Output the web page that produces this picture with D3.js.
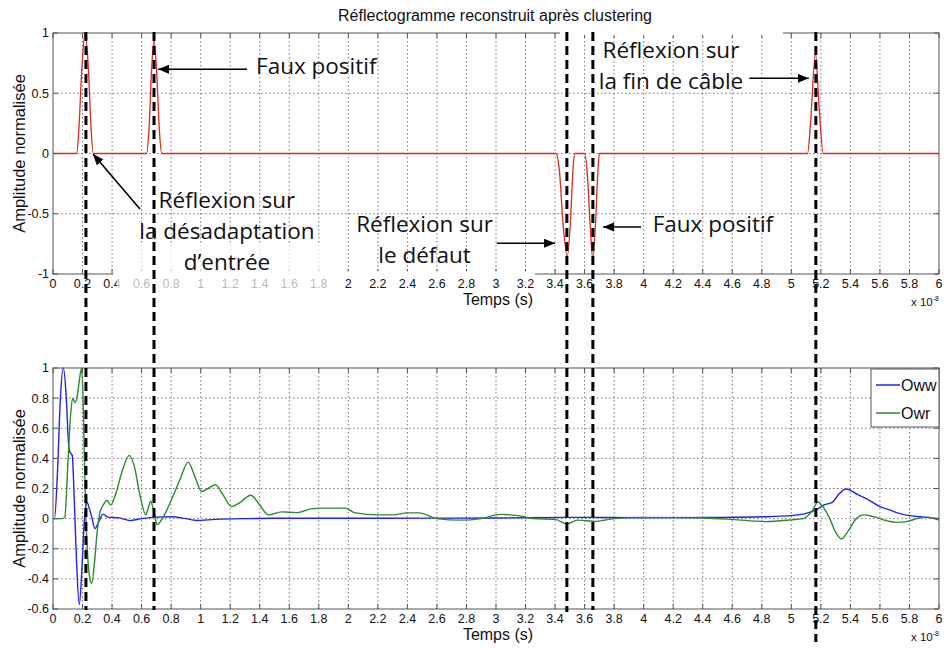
<!DOCTYPE html>
<html><head><meta charset="utf-8">
<script src="https://cdn.jsdelivr.net/npm/d3@7"></script>
<style>body{margin:0;background:#fff}svg{display:block}</style>
</head><body><svg id="c" width="946" height="648"></svg>
<script>
// ---------------- DATA ----------------
const xTickLabels = ["0","0.2","0.4","0.6","0.8","1","1.2","1.4","1.6","1.8","2","2.2","2.4","2.6","2.8","3","3.2","3.4","3.6","3.8","4","4.2","4.4","4.6","4.8","5","5.2","5.4","5.6","5.8","6"];
const yTickLabelsTop = ["-1","-0.5","0","0.5","1"];
const yTickLabelsBottom = ["-0.6","-0.4","-0.2","0","0.2","0.4","0.6","0.8","1"];

// Top panel : reconstructed reflectogram (time in 1e-8 s, normalised amplitude)
const reflectogram = [[0,0],[0.16,0],[0.175,0.2],[0.195,0.7],[0.217,1.0],[0.24,0.7],[0.258,0.2],[0.273,0],
  [0.634,0],[0.65,0.2],[0.668,0.7],[0.684,0.94],[0.703,0.65],[0.72,0.2],[0.736,0],
  [3.406,0],[3.43,-0.15],[3.455,-0.6],[3.483,-0.85],[3.505,-0.55],[3.522,-0.12],[3.535,0],
  [3.60,0],[3.62,-0.2],[3.638,-0.6],[3.655,-0.87],[3.675,-0.55],[3.69,-0.15],[3.70,0],
  [5.11,0],[5.13,0.25],[5.163,0.83],[5.19,0.35],[5.216,0],[6,0]];

// Bottom panel : Oww
const owwSeries = [[0,0],[0.01,0],[0.03,0.3],[0.05,0.8],[0.07,1.0],[0.09,0.8],[0.105,0.5],[0.115,0.44],[0.13,0.42],
  [0.145,0.1],[0.16,-0.3],[0.178,-0.57],[0.195,-0.35],[0.21,-0.05],[0.222,0.08],[0.232,0.105],[0.245,0.07],
  [0.26,0.02],[0.284,-0.066],[0.31,-0.02],[0.34,0.03],[0.37,0.01],[0.45,0.005],[0.52,-0.013],[0.6,0],
  [0.7,0.01],[0.8,0.012],[0.9,0],[0.97,-0.012],[1.1,-0.005],[1.3,0],[1.5,0.002],[2,0.002],[2.5,0.003],
  [3,0.004],[3.5,0.008],[4,0.006],[4.5,0.008],[4.8,0.012],[5.0,0.02],[5.1,0.035],[5.18,0.065],[5.22,0.09],
  [5.28,0.11],[5.32,0.16],[5.37,0.197],[5.45,0.16],[5.52,0.126],[5.6,0.08],[5.66,0.06],[5.73,0.035],
  [5.8,0.02],[5.9,0.01],[6.0,0]];

// Bottom panel : Owr
const owrSeries = [[0,0],[0.06,0],[0.08,0.01],[0.1,0.35],[0.12,0.7],[0.133,0.8],[0.15,0.77],[0.165,0.82],
  [0.18,0.93],[0.194,1.0],[0.205,0.75],[0.215,0.3],[0.223,0],[0.235,-0.25],[0.25,-0.4],[0.262,-0.43],
  [0.28,-0.3],[0.3,-0.08],[0.318,0.04],[0.34,0.09],[0.368,0.12],[0.39,0.09],[0.42,0.15],[0.47,0.32],
  [0.517,0.42],[0.55,0.35],[0.59,0.15],[0.628,0.026],[0.645,0.07],[0.661,0.115],[0.68,0.06],[0.706,-0.04],
  [0.74,0],[0.8,0.12],[0.86,0.26],[0.916,0.375],[0.96,0.28],[1.007,0.18],[1.05,0.2],[1.1,0.225],
  [1.15,0.16],[1.21,0.08],[1.27,0.11],[1.34,0.155],[1.4,0.09],[1.458,0.025],[1.55,0.045],[1.65,0.04],
  [1.75,0.065],[1.81,0.07],[1.98,0.07],[2.04,0.04],[2.2,0.025],[2.3,0.025],[2.4,0.038],[2.48,0.038],
  [2.6,0],[2.76,-0.01],[2.9,0],[3.03,0.028],[3.15,0.02],[3.25,0],[3.4,-0.005],[3.48,-0.035],[3.55,-0.01],
  [3.68,-0.018],[3.8,0],[4.0,0.008],[4.4,0.004],[4.6,-0.005],[4.83,-0.02],[5.0,-0.008],[5.08,0],
  [5.14,0.05],[5.18,0.11],[5.22,0.07],[5.26,0],[5.3,-0.09],[5.34,-0.135],[5.38,-0.09],[5.44,0],
  [5.49,0.025],[5.55,0.015],[5.65,-0.015],[5.71,-0.025],[5.78,-0.02],[5.85,0],[5.92,0.01],[6.0,-0.01]];

const seriesNames = ["Oww","Owr"];
const markerTimes = [0.223, 0.684, 3.48, 3.656, 5.166];

// annotations in top-panel data coordinates
const annotationTexts = [
  {lines:["Faux positif"], t:1.375, v:0.66, anchor:"start"},
  {lines:["Réflexion sur","la désadaptation","d’entrée"], t:1.178, v:-0.452, anchor:"middle"},
  {lines:["Réflexion sur","le défaut"], t:2.516, v:-0.649, anchor:"middle"},
  {lines:["Faux positif"], t:4.061, v:-0.649, anchor:"start"},
  {lines:["Réflexion sur","la fin de câble"], t:4.185, v:0.79, anchor:"middle"}
];
const annotationArrows = [
  {from:[1.314,0.699], to:[0.711,0.699]},
  {from:[0.589,-0.461], to:[0.271,-0.004]},
  {from:[3.005,-0.745], to:[3.40,-0.745]},
  {from:[3.982,-0.61], to:[3.725,-0.61]},
  {from:[4.715,0.624], to:[5.118,0.624]}
];

// ---------------- LAYOUT ----------------
const L = 53, R = 939;
const axisFont = "'Liberation Sans', Arial, sans-serif";
const annFont = "'Open Sans', 'Noto Sans', sans-serif";
const colors = {red:"#e0281e", oww:"#2222ee", owr:"#2e8a2e"};
const dashedEnds = [610, 610, 612, 610, 642];

const svg = d3.select("#c");
svg.append("rect").attr("width",946).attr("height",648).attr("fill","#fff");
const defs = svg.append("defs");
defs.append("marker").attr("id","ah").attr("markerUnits","userSpaceOnUse")
  .attr("markerWidth",12).attr("markerHeight",10).attr("refX",11).attr("refY",4.5)
  .attr("orient","auto")
  .append("path").attr("d","M0,0 L11,4.5 L0,9 Z").attr("fill","#000");

const x = d3.scaleLinear().domain([0,6]).range([L,R]);
const xTicks = xTickLabels.map(Number);

function panel(top, bottom, yLabels, id) {
  const yTicks = yLabels.map(Number);
  const y = d3.scaleLinear().domain([yTicks[0], yTicks[yTicks.length-1]]).range([bottom, top]);
  const g = svg.append("g");
  g.selectAll(".vg").data(xTicks.slice(1,-1)).join("line")
    .attr("x1",d=>x(d)).attr("x2",d=>x(d)).attr("y1",top).attr("y2",bottom)
    .attr("stroke","#777").attr("stroke-width",1).attr("stroke-dasharray","1.5,2.5");
  g.selectAll(".hg").data(yTicks.slice(1,-1)).join("line")
    .attr("y1",d=>y(d)).attr("y2",d=>y(d)).attr("x1",L).attr("x2",R)
    .attr("stroke","#777").attr("stroke-width",1).attr("stroke-dasharray","1.5,2.5");
  defs.append("clipPath").attr("id","clip"+id).append("rect")
    .attr("x",L).attr("y",top-1).attr("width",R-L).attr("height",bottom-top+2);
  return {g, y, top, bottom, yTicks, yLabels};
}

function frame(p) {
  const {y,top,bottom,yTicks,yLabels} = p;
  const ax = svg.append("g");
  xTicks.forEach(d=>{
    ax.append("line").attr("x1",x(d)).attr("x2",x(d)).attr("y1",bottom).attr("y2",bottom-5).attr("stroke","#555");
    ax.append("line").attr("x1",x(d)).attr("x2",x(d)).attr("y1",top).attr("y2",top+5).attr("stroke","#555");
  });
  yTicks.forEach(d=>{
    ax.append("line").attr("y1",y(d)).attr("y2",y(d)).attr("x1",L).attr("x2",L+5).attr("stroke","#555");
    ax.append("line").attr("y1",y(d)).attr("y2",y(d)).attr("x1",R).attr("x2",R-5).attr("stroke","#555");
  });
  ax.append("rect").attr("x",L).attr("y",top).attr("width",R-L).attr("height",bottom-top)
    .attr("fill","none").attr("stroke","#555").attr("stroke-width",1);
  ax.selectAll(".xl").data(xTickLabels).join("text")
    .attr("x",d=>x(+d)).attr("y",bottom+13.5).attr("text-anchor","middle")
    .attr("font-family",axisFont).attr("font-size",12.5).attr("fill","#111").text(d=>d);
  ax.selectAll(".yl").data(yLabels).join("text")
    .attr("x",L-4).attr("y",d=>y(+d)).attr("dy","0.35em").attr("text-anchor","end")
    .attr("font-family",axisFont).attr("font-size",12.5).attr("fill","#111").text(d=>d);
  ax.append("text").attr("transform",`translate(25,${(top+bottom)/2}) rotate(-90)`)
    .attr("text-anchor","middle").attr("font-family",axisFont).attr("font-size",16.5).attr("fill","#111")
    .text("Amplitude normalisée");
  ax.append("text").attr("x",(L+R)/2+2).attr("y",bottom+31).attr("text-anchor","middle")
    .attr("font-family",axisFont).attr("font-size",16).attr("fill","#111").text("Temps (s)");
  const e = ax.append("text").attr("x",R).attr("y",bottom+32).attr("text-anchor","end")
    .attr("font-family",axisFont).attr("font-size",11.5).attr("fill","#111");
  e.append("tspan").text("x 10");
  e.append("tspan").attr("dy",-5).attr("font-size",7).text("-8");
}

const pTop = panel(33, 274, yTickLabelsTop, 1);
const pBot = panel(368, 609, yTickLabelsBottom, 2);

const lineGen = y => d3.line().x(d=>x(d[0])).y(d=>y(d[1])).curve(d3.curveMonotoneX);

pTop.g.append("path").datum(reflectogram).attr("d",lineGen(pTop.y))
  .attr("fill","none").attr("stroke",colors.red).attr("stroke-width",1.3).attr("clip-path","url(#clip1)");
pBot.g.append("path").datum(owwSeries).attr("d",lineGen(pBot.y))
  .attr("fill","none").attr("stroke",colors.oww).attr("stroke-width",1.4).attr("clip-path","url(#clip2)");
pBot.g.append("path").datum(owrSeries).attr("d",lineGen(pBot.y))
  .attr("fill","none").attr("stroke",colors.owr).attr("stroke-width",1.4).attr("clip-path","url(#clip2)");

frame(pTop);
frame(pBot);

svg.append("text").attr("x",495).attr("y",21).attr("text-anchor","middle")
  .attr("font-family",axisFont).attr("font-size",16).attr("fill","#111")
  .text("Réflectogramme reconstruit après clustering");

// legend
const lg = svg.append("g");
lg.append("rect").attr("x",871).attr("y",369).attr("width",68).attr("height",58)
  .attr("fill","#fff").attr("stroke","#555");
[colors.oww, colors.owr].forEach((c,i)=>{
  const yy = 385 + i*28;
  lg.append("line").attr("x1",876).attr("x2",900).attr("y1",yy).attr("y2",yy).attr("stroke",c).attr("stroke-width",1.5);
  lg.append("text").attr("x",901).attr("y",yy+6).attr("font-family",axisFont).attr("font-size",16)
    .attr("fill","#111").text(seriesNames[i]);
});

// masks from the edited original figure (white text boxes)
svg.append("rect").attr("x",113).attr("y",271.5).attr("width",422).attr("height",5).attr("fill","#fff");
svg.append("rect").attr("x",117).attr("y",244).attr("width",218).attr("height",48).attr("fill","#fff").attr("opacity",0.7);
svg.append("rect").attr("x",560).attr("y",30).attr("width",223).attr("height",5).attr("fill","#fff");

// dashed vertical markers
svg.selectAll(".dm").data(markerTimes).join("line")
  .attr("x1",d=>x(d)).attr("x2",d=>x(d)).attr("y1",32).attr("y2",(d,i)=>dashedEnds[i])
  .attr("stroke","#000").attr("stroke-width",3).attr("stroke-dasharray","9,5");

// annotations
const yT = pTop.y;
annotationTexts.forEach(a=>{
  const t = svg.append("text").attr("font-family",annFont).attr("font-size",22.5).attr("fill","#111")
    .attr("text-anchor",a.anchor);
  a.lines.forEach((ln,i)=>{
    t.append("tspan").attr("x",x(a.t)).attr("y",yT(a.v)+i*31).text(ln);
  });
});
annotationArrows.forEach(a=>{
  svg.append("line").attr("x1",x(a.from[0])).attr("y1",yT(a.from[1]))
    .attr("x2",x(a.to[0])).attr("y2",yT(a.to[1]))
    .attr("stroke","#000").attr("stroke-width",1.6).attr("marker-end","url(#ah)");
});
</script></body></html>
